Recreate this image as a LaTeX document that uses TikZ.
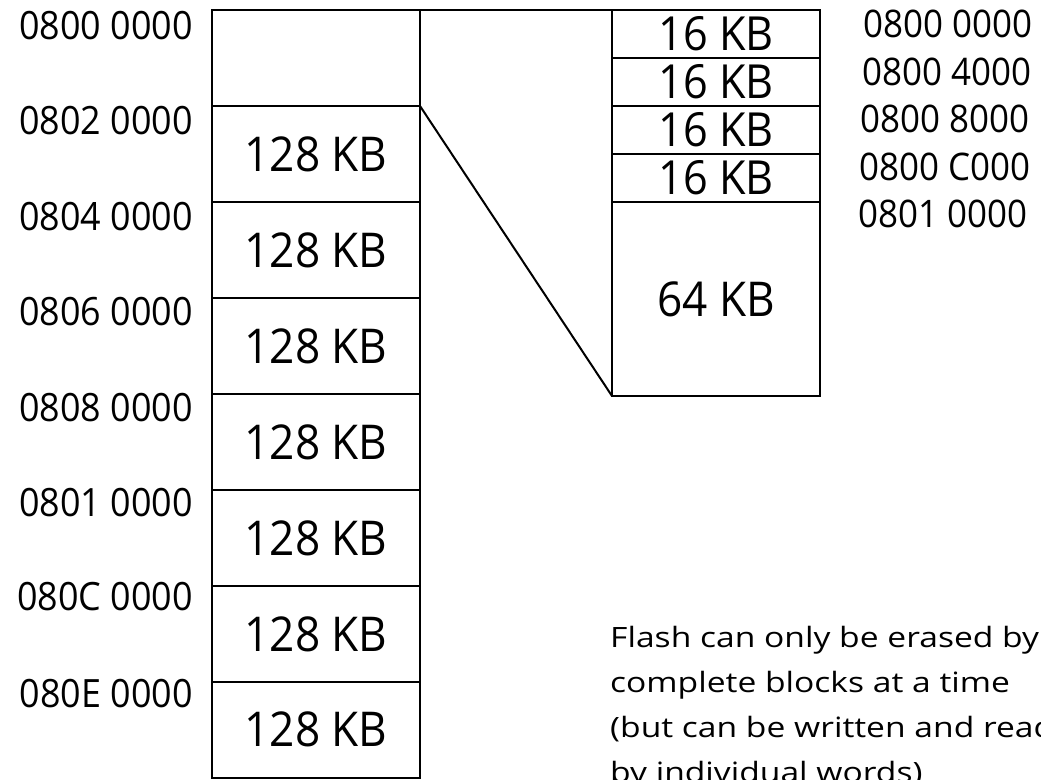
\documentclass[tikz,border=0pt]{standalone}
\usepackage{fontspec}
\setmainfont[FakeStretch=0.92]{Open Sans}
\newfontfamily\wideopen[FakeStretch=1.2]{Open Sans}
\begin{document}
\begin{tikzpicture}[x=1pt,y=-1pt,
  blk/.style={draw, line width=2pt, minimum width=208pt, minimum height=96pt,
    inner sep=0pt, outer sep=0pt, anchor=north west, font=\fontsize{48}{48}\selectfont},
  small/.style={blk, minimum height=48pt, font=\fontsize{47}{47}\selectfont},
  laddr/.style={anchor=east, inner sep=0pt, font=\fontsize{39}{39}\selectfont},
  raddr/.style={anchor=west, inner sep=0pt, font=\fontsize{38}{38}\selectfont},
  link/.style={draw, line width=2pt},
  note/.style={align=left, anchor=north west, inner sep=0pt, font=\wideopen\fontsize{28}{45}\selectfont}]
\useasboundingbox (0,0) rectangle (1041,779);
\clip (0,0) rectangle (1041,779);
% left column
\node[blk] (L0) at (212,10) {};
\node[blk] (L1) at (212,106) {128 KB};
\node[blk] (L2) at (212,202) {128 KB};
\node[blk] (L3) at (212,298) {128 KB};
\node[blk] (L4) at (212,394) {128 KB};
\node[blk] (L5) at (212,490) {128 KB};
\node[blk] (L6) at (212,586) {128 KB};
\node[blk, minimum height=95.5pt] (L7) at (212,682) {128 KB};
% right column
\node[small] (R1) at (612,10) {16 KB};
\node[small] (R2) at (612,58) {16 KB};
\node[small] (R3) at (612,106) {16 KB};
\node[small] (R4) at (612,154) {16 KB};
\node[blk, minimum height=194pt] (R5) at (612,202) {64 KB};
% connectors
\draw[link] (L0.north east) -- (R1.north west);
\draw[link] (L0.south east) -- (R5.south west);
% left addresses
\node[laddr] (a0) at (193,26) {0800 0000};
\node[laddr] (a1) at (193,121) {0802 0000};
\node[laddr] (a2) at (193,217) {0804 0000};
\node[laddr] (a3) at (193,312) {0806 0000};
\node[laddr] (a4) at (193,408) {0808 0000};
\node[laddr] (a5) at (193,503) {0801 0000};
\node[laddr] (a6) at (193,597) {080C 0000};
\node[laddr] (a7) at (193,694) {080E 0000};
% right addresses
\node[raddr] (b0) at (863,24) {0800 0000};
\node[raddr] (b1) at (862,72) {0800 4000};
\node[raddr] (b2) at (860,119) {0800 8000};
\node[raddr] (b3) at (859,167) {0800 C000};
\node[raddr] (b4) at (858,214) {0801 0000};
% note
\node[note] (txt) at (610,626) {Flash can only be erased by\\complete blocks at a time\\(but can be written and read\\by individual words)};
\end{tikzpicture}
\end{document}
